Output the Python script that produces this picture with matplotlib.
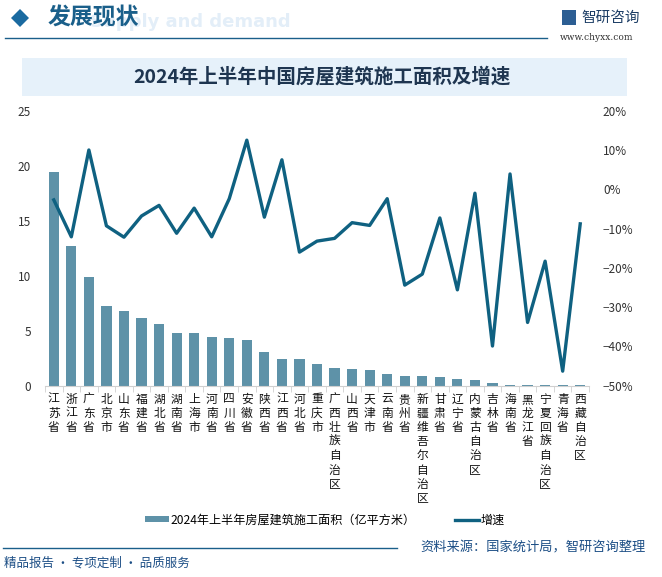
import matplotlib
matplotlib.use("Agg")
import matplotlib.pyplot as plt
from matplotlib.patches import Rectangle, Polygon
from matplotlib.lines import Line2D
import numpy as np

plt.rcParams["font.family"] = ["Noto Sans CJK SC", "DejaVu Sans"]

PROVINCES = ["江苏省", "浙江省", "广东省", "北京市", "山东省", "福建省", "湖北省",
             "湖南省", "上海市", "河南省", "四川省", "安徽省", "陕西省", "江西省",
             "河北省", "重庆市", "广西壮族自治区", "山西省", "天津市", "云南省",
             "贵州省", "新疆维吾尔自治区", "甘肃省", "辽宁省", "内蒙古自治区",
             "吉林省", "海南省", "黑龙江省", "宁夏回族自治区", "青海省", "西藏自治区"]
AREA = [19.4, 12.7, 9.85, 7.25, 6.8, 6.15, 5.6, 4.8, 4.8, 4.45, 4.35, 4.18,
        3.06, 2.45, 2.45, 1.97, 1.6, 1.55, 1.45, 1.06, 0.9, 0.88, 0.8, 0.6,
        0.48, 0.2, 0.1, 0.1, 0.03, 0.02, 0.02]
GROWTH = [-2.7, -12.1, 10.0, -9.3, -12.2, -6.8, -4.1, -11.2, -4.8, -12.1,
          -2.4, 12.5, -7.1, 7.5, -16.0, -13.2, -12.5, -8.5, -9.2, -2.4,
          -24.4, -21.6, -7.3, -25.6, -1.0, -39.9, 3.9, -33.9, -18.3, -46.3, -8.8]
LEFT_TICKS = [0, 5, 10, 15, 20, 25]
RIGHT_TICKS = [-50, -40, -30, -20, -10, 0, 10, 20]

BAR_C = "#5e92a8"
LINE_C = "#0f6181"
DARK = "#1a5f8a"

W, H = 662, 577
fig = plt.figure(figsize=(W / 100, H / 100), dpi=100)


def fx(px):
    return px / W


def fy(py):
    return 1 - py / H


# ---- header ----
fig.text(fx(90), fy(22), "Supply and demand", fontsize=13, fontweight="bold",
         color="#e3eef8", va="center", ha="left", zorder=0, family="DejaVu Sans")
fig.text(fx(48), fy(18), "发展现状", fontsize=16.5, fontweight="bold",
         color=DARK, va="center", ha="left", zorder=2,
         bbox=dict(fc="none", ec="none", pad=0))
fig.patches.append(Polygon([[fx(11), fy(18)], [fx(20), fy(9)], [fx(29), fy(18)],
                            [fx(20), fy(27)]], closed=True, transform=fig.transFigure,
                           fc="#1a6aa0", ec="none"))
fig.add_artist(Line2D([fx(5), fx(547)], [fy(38), fy(38)], color=DARK, lw=1.0))
fig.patches.append(Rectangle((fx(562), fy(25)), fx(14), 15 / H,
                             transform=fig.transFigure, fc="#2c5e93", ec="none"))
fig.text(fx(581), fy(18), "智研咨询", fontsize=10.5, color="#1d3e66",
         va="center", ha="left")
fig.text(fx(560), fy(38), "www.chyxx.com", fontsize=6.5, color="#333333",
         va="center", ha="left", family="DejaVu Serif")

# ---- title band ----
fig.patches.append(Rectangle((fx(22), fy(96)), fx(605), 38 / H,
                             transform=fig.transFigure, fc="#e6f1fa", ec="none"))
fig.text(fx(322), fy(77), "2024年上半年中国房屋建筑施工面积及增速", fontsize=14,
         fontweight="bold", color="#1e3550", va="center", ha="center")

# ---- chart ----
ax = fig.add_axes([fx(45), fy(385.7), fx(589 - 45), (385.7 - 110.7) / H])
x = np.arange(len(PROVINCES))
ax.bar(x, AREA, width=0.58, color=BAR_C, zorder=2)
ax.set_xlim(-0.5, len(PROVINCES) - 0.5)
ax.set_ylim(0, 25)
ax.set_yticks(LEFT_TICKS)
ax.tick_params(axis="y", length=0, labelsize=8.5, labelcolor="#333333", pad=10)
for s in ["top", "right", "left"]:
    ax.spines[s].set_visible(False)
ax.spines["bottom"].set_color("#d0d0d0")
ax.set_xticks(x)
ax.set_xticklabels(["\n".join(p) for p in PROVINCES], fontsize=8.5,
                   linespacing=1.12, va="top")
ax.tick_params(axis="x", length=0, pad=5, labelcolor="#111111")
ax.set_xticks(np.arange(len(PROVINCES) + 1) - 0.5, minor=True)
ax.tick_params(axis="x", which="minor", length=4, color="#d0d0d0")

ax2 = ax.twinx()
ax2.plot(x, GROWTH, color=LINE_C, lw=2.4, zorder=3)
ax2.set_ylim(-50, 20)
ax2.set_yticks(RIGHT_TICKS)
ax2.set_yticklabels([f"{v}%".replace("-", "\u2212") for v in RIGHT_TICKS])
ax2.tick_params(axis="y", length=0, labelsize=8.5, labelcolor="#333333", pad=10)
for s in ["top", "right", "left", "bottom"]:
    ax2.spines[s].set_visible(False)

# ---- legend ----
handles = [Rectangle((0, 0), 1, 1, fc=BAR_C, ec="none"),
           Line2D([0], [0], color=LINE_C, lw=2.4)]
fig.legend(handles, ["2024年上半年房屋建筑施工面积（亿平方米）", "增速"],
           loc="center", bbox_to_anchor=(fx(325), fy(520)), ncol=2,
           frameon=False, fontsize=8.7, handlelength=2.0, handleheight=0.45,
           columnspacing=3.2, handletextpad=0.15)

# ---- footer ----
fig.add_artist(Line2D([fx(3), fx(397)], [fy(548), fy(548)], color=DARK, lw=1.0))
fig.text(fx(646), fy(548), "资料来源：国家统计局，智研咨询整理", fontsize=9.5,
         color="#1d4f86", va="center", ha="right")
fig.text(fx(4), fy(563), "精品报告 · 专项定制 · 品质服务", fontsize=9,
         color="#1d4f86", va="center", ha="left")

fig.savefig("out.png", dpi=100)
